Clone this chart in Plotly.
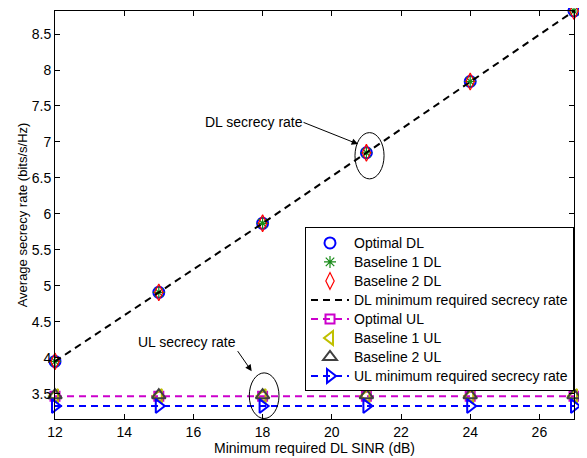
import plotly.graph_objects as go

sinr = [12, 15, 18, 21, 24, 27]
optimal_dl = [3.95, 4.91, 5.87, 6.85, 7.84, 8.82]
baseline1_dl = [3.95, 4.91, 5.87, 6.85, 7.84, 8.82]
baseline2_dl = [3.95, 4.91, 5.87, 6.85, 7.84, 8.82]
dl_min = [3.95, 4.91, 5.87, 6.85, 7.84, 8.82]
optimal_ul = [3.467, 3.467, 3.467, 3.467, 3.467, 3.467]
baseline1_ul = [3.47, 3.47, 3.47, 3.47, 3.47, 3.47]
baseline2_ul = [3.48, 3.48, 3.48, 3.48, 3.48, 3.48]
ul_min = [3.33, 3.33, 3.33, 3.33, 3.33, 3.33]

x_ticks = [12, 14, 16, 18, 20, 22, 24, 26]
y_ticks = [3.5, 4, 4.5, 5, 5.5, 6, 6.5, 7, 7.5, 8, 8.5]

FONT = "Liberation Sans, Arial, sans-serif"
DASH = "7px,5px"


def lg(name):
    return '<span style="font-size:14px">' + name + '</span>'


fig = go.Figure()
fig.add_trace(go.Scatter(x=sinr, y=optimal_dl, mode="markers", name=lg("Optimal DL"), cliponaxis=False,
                         marker=dict(symbol="circle-open", size=11, color="#0000ff",
                                     line=dict(width=2, color="#0000ff"))))
fig.add_trace(go.Scatter(x=sinr, y=baseline1_dl, mode="markers", name=lg("Baseline 1 DL"), cliponaxis=False,
                         marker=dict(symbol="asterisk-open", size=10, color="#178a17",
                                     line=dict(width=1.2, color="#178a17"))))
fig.add_trace(go.Scatter(x=sinr, y=baseline2_dl, mode="markers", name=lg("Baseline 2 DL"), cliponaxis=False,
                         marker=dict(symbol="diamond-tall-open", size=12, color="#ff0000",
                                     line=dict(width=1.2, color="#ff0000"))))
fig.add_trace(go.Scatter(x=sinr, y=dl_min, mode="lines", name=lg("DL minimum required secrecy rate"),
                         line=dict(color="black", width=2, dash=DASH)))
fig.add_trace(go.Scatter(x=sinr, y=optimal_ul, mode="lines+markers", name=lg("Optimal UL"), cliponaxis=False,
                         line=dict(color="#cc00cc", width=2, dash=DASH),
                         marker=dict(symbol="square-open", size=9, color="#cc00cc",
                                     line=dict(width=2, color="#cc00cc"))))
fig.add_trace(go.Scatter(x=sinr, y=baseline1_ul, mode="markers", name=lg("Baseline 1 UL"), cliponaxis=False,
                         marker=dict(symbol="triangle-left-open", size=12, color="#c0c000",
                                     line=dict(width=2, color="#c0c000"))))
fig.add_trace(go.Scatter(x=sinr, y=baseline2_ul, mode="markers", name=lg("Baseline 2 UL"), cliponaxis=False,
                         marker=dict(symbol="triangle-up-open", size=12, color="#404040",
                                     line=dict(width=2, color="#404040"))))
fig.add_trace(go.Scatter(x=sinr, y=ul_min, mode="lines+markers", name=lg("UL minimum required secrecy rate"),
                         cliponaxis=False,
                         line=dict(color="#0000ff", width=2, dash=DASH),
                         marker=dict(symbol="triangle-right-open", size=12, color="#0000ff",
                                     line=dict(width=2, color="#0000ff"))))

# annotations: ellipses and arrows
fig.add_shape(type="circle", xref="x", yref="y", x0=20.67, x1=21.51, y0=6.487, y1=7.13,
              line=dict(color="black", width=1))
fig.add_shape(type="circle", xref="x", yref="y", x0=17.615, x1=18.474, y0=3.157, y1=3.791,
              line=dict(color="black", width=1))
fig.add_annotation(x=17.746, y=7.278, xref="x", yref="y", text="DL secrecy rate", showarrow=False,
                   font=dict(size=14, color="black", family=FONT))
fig.add_annotation(x=20.76, y=6.97, ax=19.14, ay=7.28, xref="x", yref="y", axref="x", ayref="y",
                   text="", showarrow=True, arrowhead=2, arrowsize=1.3, arrowwidth=1, arrowcolor="black")
fig.add_annotation(x=15.815, y=4.216, xref="x", yref="y", text="UL secrecy rate", showarrow=False,
                   font=dict(size=14, color="black", family=FONT))
fig.add_annotation(x=17.685, y=3.813, ax=17.25, ay=4.114, xref="x", yref="y", axref="x", ayref="y",
                   text="", showarrow=True, arrowhead=2, arrowsize=1.3, arrowwidth=1, arrowcolor="black")

axis_common = dict(showgrid=False, zeroline=False, showline=True, linecolor="black", linewidth=1,
                   mirror="ticks", ticks="inside", ticklen=5, tickcolor="black", automargin=False,
                   tickfont=dict(size=14, color="black", family=FONT))
fig.update_xaxes(range=[12, 27], tickvals=x_ticks, ticktext=[str(v) for v in x_ticks],
                 title=dict(text="Minimum required DL SINR (dB)", font=dict(size=14, color="black", family=FONT),
                            standoff=2),
                 **axis_common)
fig.update_yaxes(range=[3.15, 8.82], tickvals=y_ticks, ticktext=[("%g" % v) for v in y_ticks],
                 title=dict(text="Average secrecy rate (bits/s/Hz)", font=dict(size=13, color="black", family=FONT),
                            standoff=1),
                 **axis_common)
fig.update_layout(
    width=579, height=450,
    margin=dict(l=47, r=13, t=3, b=38.5),
    paper_bgcolor="white", plot_bgcolor="white",
    font=dict(family=FONT, color="black"),
    showlegend=True,
    legend=dict(x=1, xanchor="right", y=0.4695, yanchor="top",
                bgcolor="white", bordercolor="black", borderwidth=1,
                font=dict(size=12, color="black", family=FONT),
                itemwidth=38, tracegroupgap=0),
)
fig.write_html("out.html")
